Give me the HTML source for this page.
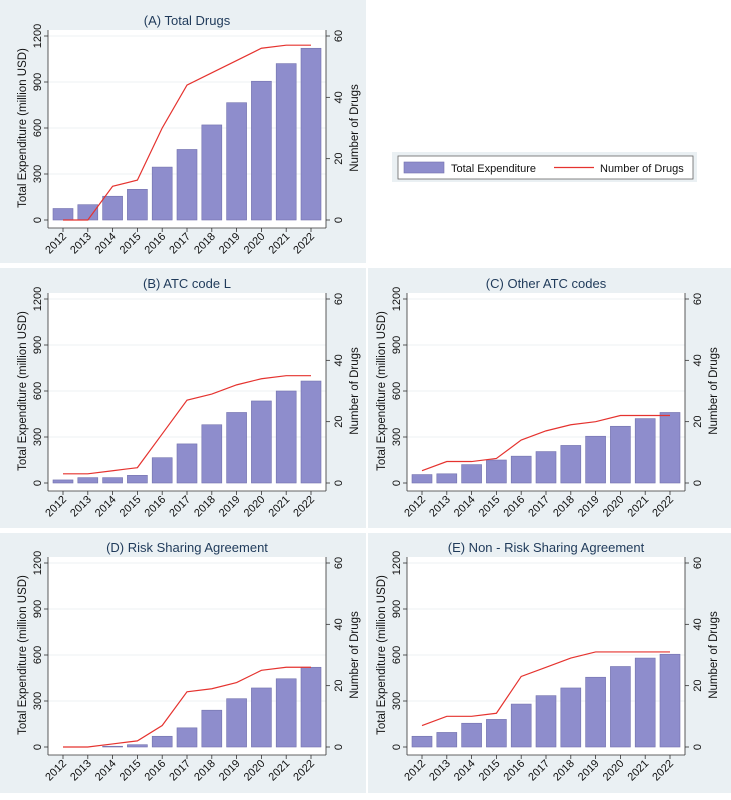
<!DOCTYPE html>
<html><head><meta charset="utf-8"><style>
body{margin:0;background:#fff;}
svg{display:block;font-family:"Liberation Sans",sans-serif;}
</style></head><body>
<svg id="c" width="731" height="800" viewBox="0 0 731 800" xmlns="http://www.w3.org/2000/svg">
<rect x="0" y="0" width="366" height="263" fill="#eaf0f3"/>
<rect x="0" y="268" width="366" height="260" fill="#eaf0f3"/>
<rect x="368" y="268" width="363" height="260" fill="#eaf0f3"/>
<rect x="0" y="533" width="366" height="260" fill="#eaf0f3"/>
<rect x="368" y="533" width="363" height="260" fill="#eaf0f3"/>
<g>
<rect x="392" y="152" width="305" height="30" fill="#eaf0f3"/>
<rect x="398" y="156" width="295" height="23" fill="#fff" stroke="#666" stroke-width="0.8"/>
<rect x="404" y="162" width="40" height="11" fill="#8e8dcc" stroke="#7372ad" stroke-width="0.6"/>
<text x="451" y="172" font-size="11" fill="#111">Total Expenditure</text>
<line x1="554" y1="167.5" x2="594" y2="167.5" stroke="#e5332f" stroke-width="1.2"/>
<text x="600" y="172" font-size="11" fill="#111">Number of Drugs</text>
</g>
</svg>
<script>
const years = ["2012","2013","2014","2015","2016","2017","2018","2019","2020","2021","2022"];
const leftTicks = [0,300,600,900,1200];
const rightTicks = [0,20,40,60];
const expA = [75,100,155,200,345,460,620,765,905,1020,1120];
const drugsA = [0,0,11,13,30,44,48,52,56,57,57];
const expB = [20,35,35,50,165,255,380,460,535,600,665];
const drugsB = [3,3,4,5,16,27,29,32,34,35,35];
const expC = [55,60,120,150,175,205,245,305,370,420,460];
const drugsC = [4,7,7,8,14,17,19,20,22,22,22];
const expD = [0,0,5,15,70,125,240,315,385,445,520];
const drugsD = [0,0,1,2,7,18,19,21,25,26,26];
const expE = [70,95,155,180,280,335,385,455,525,580,605];
const drugsE = [7,10,10,11,23,26,29,31,31,31,31];

const NS="http://www.w3.org/2000/svg";
const svg=document.getElementById('c');
function mk(tag,attrs,parent){const e=document.createElementNS(NS,tag);for(const k in attrs)e.setAttribute(k,attrs[k]);(parent||svg).appendChild(e);return e;}

function panel(key,title,ox,oy,exp,drugs){
  const g=mk('g',{});
  
  
  const px0=ox+48, px1=ox+326, yTop=oy+36, yZero=oy+220, yBot=oy+228;
  const x0=ox+63, dx=(ox+311-x0)/(years.length-1);
  const xS=i=>x0+i*dx;
  const yL=v=>yZero-(v/1200)*(yZero-yTop);
  const yR=v=>yZero-(v/60)*(yZero-yTop);
  const bg=mk('rect',{x:px0,y:oy+30,width:px1-px0,height:yBot-oy-30,fill:'#fff'},g);
  
  
  leftTicks.forEach(t=>{
    if(t>0){const gl=mk('line',{x1:px0,x2:px1,y1:yL(t),y2:yL(t),stroke:'#eef1f3','stroke-width':1},g);
    
    }
    mk('line',{x1:px0-4,x2:px0,y1:yL(t),y2:yL(t),stroke:'#333','stroke-width':0.8},g);
    const tx=mk('text',{x:0,y:0,'font-size':11,fill:'#111','text-anchor':'middle',transform:`translate(${px0-7},${yL(t)}) rotate(-90)`},g);
    tx.textContent=t;
    
    
  });
  rightTicks.forEach(t=>{
    mk('line',{x1:px1,x2:px1+4,y1:yR(t),y2:yR(t),stroke:'#333','stroke-width':0.8},g);
    const tx=mk('text',{x:0,y:0,'font-size':11,fill:'#111','text-anchor':'middle',transform:`translate(${px1+16},${yR(t)}) rotate(-90)`},g);
    tx.textContent=t;
    
    
  });
  exp.forEach((v,i)=>{
    const b=mk('rect',{x:xS(i)-10,y:yL(v),width:20,height:Math.max(0,yZero-yL(v)),fill:'#8e8dcc',stroke:'#7372ad','stroke-width':0.6},g);
    
    
  });
  const pts=drugs.map((v,i)=>xS(i)+','+yR(v)).join(' ');
  const ln=mk('polyline',{points:pts,fill:'none',stroke:'#e5332f','stroke-width':1.2},g);
  
  
  mk('line',{x1:px0,x2:px0,y1:oy+30,y2:yBot,stroke:'#333','stroke-width':0.8},g);
  mk('line',{x1:px1,x2:px1,y1:oy+30,y2:yBot,stroke:'#333','stroke-width':0.8},g);
  mk('line',{x1:px0,x2:px1,y1:yBot,y2:yBot,stroke:'#333','stroke-width':0.8},g);
  years.forEach((y,i)=>{
    mk('line',{x1:xS(i),x2:xS(i),y1:yBot,y2:yBot+4,stroke:'#333','stroke-width':0.8},g);
    const tx=mk('text',{x:0,y:0,'font-size':11,fill:'#111','text-anchor':'end',transform:`translate(${xS(i)+4},${yBot+9}) rotate(-45)`},g);
    tx.textContent=y;
    
    
  });
  const tt=mk('text',{x:(px0+px1)/2,y:oy+25,'font-size':13,fill:'#1f3a5a','text-anchor':'middle'},g);
  tt.textContent=title;
  
  
  const yt=mk('text',{x:0,y:0,'font-size':11.5,fill:'#111','text-anchor':'middle',transform:`translate(${ox+26},${(yTop+yZero)/2}) rotate(-90)`},g);
  yt.textContent='Total Expenditure (million USD)';
  
  
  const rt=mk('text',{x:0,y:0,'font-size':11.5,fill:'#111','text-anchor':'middle',transform:`translate(${px1+32},${(yTop+yZero)/2}) rotate(-90)`},g);
  rt.textContent='Number of Drugs';
  
  
}
panel('a','(A) Total Drugs',0,0,expA,drugsA);
panel('b','(B) ATC code L',0,263,expB,drugsB);
panel('c','(C) Other ATC codes',359,263,expC,drugsC);
panel('d','(D) Risk Sharing Agreement',0,527,expD,drugsD);
panel('e','(E) Non - Risk Sharing Agreement',359,527,expE,drugsE);
</script>
</body></html>
